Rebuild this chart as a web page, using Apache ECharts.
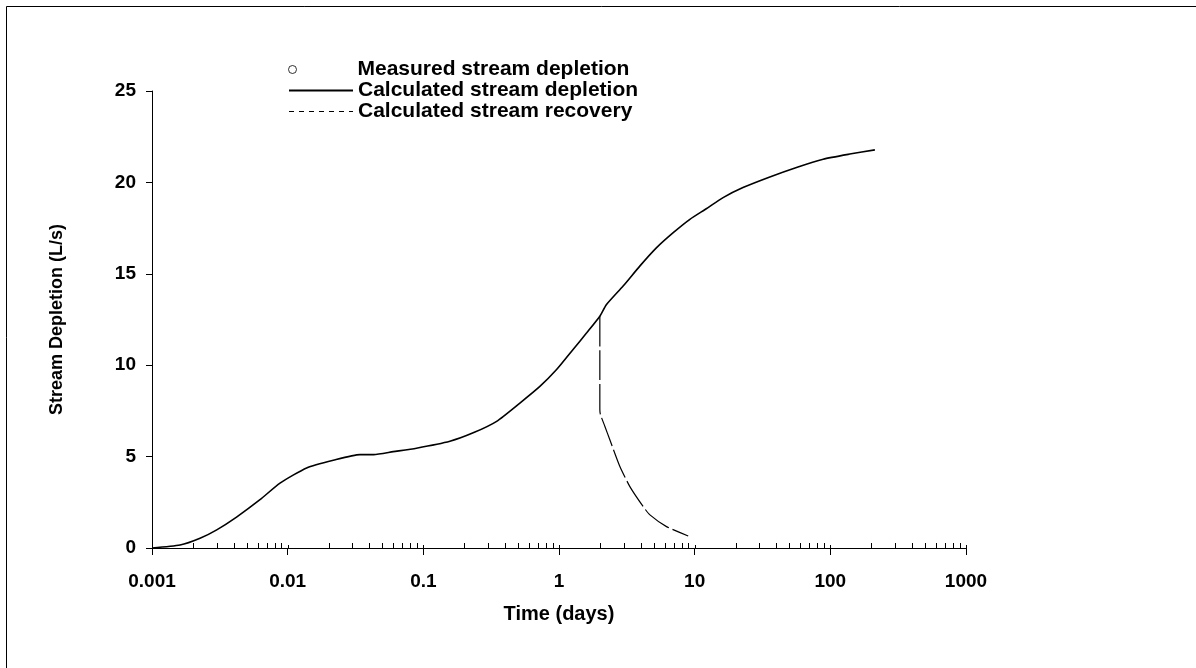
<!DOCTYPE html>
<html>
<head>
<meta charset="utf-8">
<script src="https://cdn.jsdelivr.net/npm/echarts@6/dist/echarts.min.js"></script>
<style>html,body{margin:0;padding:0;background:#fff;}#c{width:1196px;height:668px;}</style>
</head>
<body>
<div id="c"></div>
<script>
// Time (days) and stream depletion (L/s)
const depletionTime = [0.001,0.00161,0.00226,0.0030,0.0042,0.00625,0.00878,0.0138,0.0217,0.0341,0.043,0.06,0.089,0.157,0.233,0.347,0.515,0.723,0.96,1.27,1.60,2.0,2.24,2.97,3.94,5.24,6.95,9.22,12.25,16.2,22.7,35.8,56.3,88.5,139,213];
const depletionValue = [0,0.16,0.53,0.99,1.69,2.64,3.55,4.38,4.80,5.11,5.11,5.27,5.46,5.84,6.3,6.93,7.93,8.84,9.76,10.86,11.77,12.68,13.32,14.33,15.42,16.43,17.25,17.98,18.57,19.17,19.72,20.3,20.82,21.27,21.55,21.78];
const recoveryTime = [2.0,2.0,2.0,2.02,2.18,2.37,2.81,3.33,4.18,4.68,6.2,8.96];
const recoveryValue = [12.68,10.0,7.57,7.3,6.65,5.92,4.46,3.36,2.26,1.81,1.17,0.66];
const measuredTime = [];
const measuredValue = [];
const xTickLabels = ['0.001','0.01','0.1','1','10','100','1000'];
const xTickValues = [0.001,0.01,0.1,1,10,100,1000];
const minorTickValues = [];
for (let k = -3; k <= 2; k++) for (let m = 2; m <= 9; m++) minorTickValues.push(+(m * Math.pow(10, k)).toPrecision(3));
const seriesNames = ['Measured stream depletion','Calculated stream depletion','Calculated stream recovery'];

const zip = (a, b) => a.map((v, i) => [v, b[i]]);
const FONT = 'Liberation Sans, Arial, sans-serif';
const hiddenSymbol = {color: 'transparent', borderColor: 'transparent', borderWidth: 0, opacity: 0};
const chart = echarts.init(document.getElementById('c'), null, {renderer: 'canvas'});
chart.setOption({
  animation: false,
  backgroundColor: '#fff',
  graphic: [{type: 'rect', shape: {x: 6.5, y: 6.5, width: 1300, height: 800}, style: {fill: 'none', stroke: '#000', lineWidth: 1}, silent: true}],
  grid: {left: 152, right: 230, top: 91, bottom: 120},
  legend: [{
    data: [{name: seriesNames[0], icon: 'circle', itemStyle: {color: '#fff', borderColor: '#000', borderWidth: 1}}],
    left: 283, top: 54, orient: 'vertical', itemWidth: 8, itemHeight: 8,
    textStyle: {fontFamily: FONT, fontWeight: 'bold', fontSize: 21, lineHeight: 20, color: '#000', padding: [0, 0, 0, 56]},
    selectedMode: false
  }, {
    data: [{name: seriesNames[1], itemStyle: hiddenSymbol},
           {name: seriesNames[2], itemStyle: hiddenSymbol, lineStyle: {type: [5, 5], width: 1, color: '#000'}}],
    left: 283, top: 75, orient: 'vertical', itemWidth: 64, itemHeight: 14, itemGap: 0,
    textStyle: {fontFamily: FONT, fontWeight: 'bold', fontSize: 21, lineHeight: 20, color: '#000'},
    selectedMode: false
  }],
  xAxis: {
    type: 'log', logBase: 10, min: 0.001, max: 1000,
    name: 'Time (days)', nameLocation: 'middle', nameGap: 56,
    nameTextStyle: {fontFamily: FONT, fontWeight: 'bold', fontSize: 20, color: '#000'},
    axisLine: {lineStyle: {color: '#000', width: 1}},
    axisTick: {show: true, length: 7, lineStyle: {color: '#000'}},
    axisLabel: {margin: 24, fontFamily: FONT, fontWeight: 'bold', fontSize: 19, color: '#000',
      formatter: v => { const i = xTickValues.findIndex(t => Math.abs(Math.log10(t) - Math.log10(v)) < 1e-6); return i >= 0 ? xTickLabels[i] : ''; }},
    splitLine: {show: false}, minorTick: {show: false}
  },
  yAxis: {
    type: 'value', min: 0, max: 25, interval: 5,
    name: 'Stream Depletion (L/s)', nameLocation: 'middle', nameGap: 86, nameRotate: 90,
    nameTextStyle: {fontFamily: FONT, fontWeight: 'bold', fontSize: 18, color: '#000'},
    axisLine: {show: true, lineStyle: {color: '#000', width: 1}},
    axisTick: {show: true, length: 6, lineStyle: {color: '#000'}},
    axisLabel: {margin: 16, fontFamily: FONT, fontWeight: 'bold', fontSize: 19, color: '#000'},
    splitLine: {show: false}
  },
  series: [{
    name: seriesNames[0], type: 'scatter', symbol: 'emptyCircle', symbolSize: 8,
    itemStyle: {color: '#fff', borderColor: '#000', borderWidth: 1},
    data: zip(measuredTime, measuredValue)
  }, {
    name: seriesNames[1], type: 'line', showSymbol: false, symbol: 'none', smooth: 0.2,
    lineStyle: {color: '#000', width: 1.6}, itemStyle: {color: '#000'},
    data: zip(depletionTime, depletionValue), z: 3
  }, {
    name: seriesNames[2], type: 'line', showSymbol: false, symbol: 'none', smooth: 0.2,
    lineStyle: {color: '#000', width: 1.2, type: [30, 4]}, itemStyle: {color: '#000'},
    data: zip(recoveryTime, recoveryValue), z: 2
  }, {
    type: 'custom', silent: true, z: 4,
    data: minorTickValues.map(v => [v, 0, 5]).concat(xTickValues.map(v => [v, 0, 3])),
    renderItem: (params, api) => {
      const p = api.coord([api.value(0), api.value(1)]);
      const x = Math.round(p[0]) + 0.5;
      return {type: 'line', shape: {x1: x, y1: p[1], x2: x, y2: p[1] - api.value(2)}, style: {stroke: '#000', lineWidth: 1}};
    }
  }]
});
</script>
</body>
</html>
